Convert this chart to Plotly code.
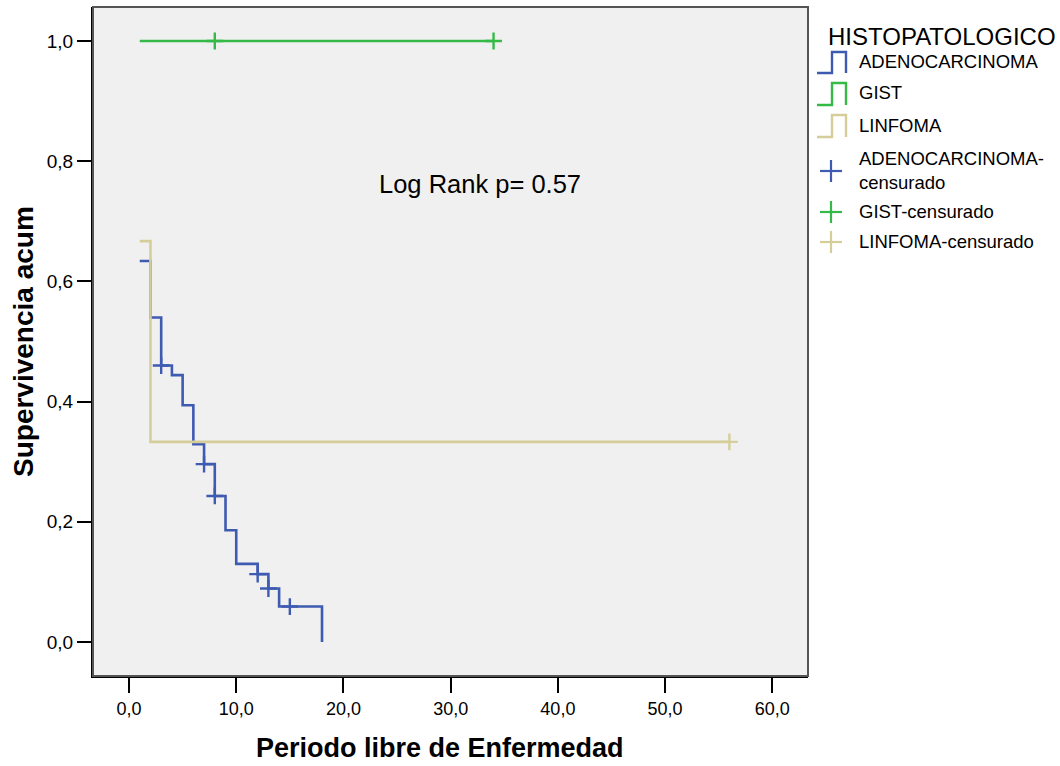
import plotly.graph_objects as go

# ---------------- data ----------------
adeno_t = [1, 2, 3, 4, 5, 6, 7, 8, 9, 10, 12, 13, 14, 18]
adeno_s = [0.634, 0.540, 0.460, 0.444, 0.394, 0.329, 0.296, 0.243, 0.186, 0.130, 0.113, 0.089, 0.059, 0.0]
adeno_cens_t = [3, 7, 8, 12, 13, 15]
adeno_cens_s = [0.460, 0.296, 0.243, 0.113, 0.089, 0.059]

gist_t = [1, 34]
gist_s = [1.0, 1.0]
gist_cens_t = [8, 34]
gist_cens_s = [1.0, 1.0]

linf_t = [1, 2, 56]
linf_s = [0.667, 0.333, 0.333]
linf_cens_t = [56]
linf_cens_s = [0.333]

x_ticks = [0, 10, 20, 30, 40, 50, 60]
x_ticktext = ["0,0", "10,0", "20,0", "30,0", "40,0", "50,0", "60,0"]
y_ticks = [0.0, 0.2, 0.4, 0.6, 0.8, 1.0]
y_ticktext = ["0,0", "0,2", "0,4", "0,6", "0,8", "1,0"]

legend_title = "HISTOPATOLOGICO"
legend_lines = ["ADENOCARCINOMA", "GIST", "LINFOMA"]
legend_cens = ["ADENOCARCINOMA-<br>censurado", "GIST-censurado", "LINFOMA-censurado"]

BLUE = "#3F5BB1"
GREEN = "#35BA47"
TAN = "#D5CE9A"
colors = [BLUE, GREEN, TAN]
FONT = "Liberation Sans, Arial, sans-serif"

# ---------------- figure ----------------
W, H = 1060, 766
L, R, T, B = 93, 252, 7, 90
fig = go.Figure()

for t, s, c in [(adeno_t, adeno_s, BLUE), (gist_t, gist_s, GREEN), (linf_t, linf_s, TAN)]:
    fig.add_trace(go.Scatter(x=t, y=s, mode="lines", line=dict(color=c, width=2.6, shape="hv"),
                             showlegend=False, hoverinfo="skip"))
for t, s, c in [(adeno_cens_t, adeno_cens_s, BLUE), (gist_cens_t, gist_cens_s, GREEN),
                (linf_cens_t, linf_cens_s, TAN)]:
    fig.add_trace(go.Scatter(x=t, y=s, mode="markers",
                             marker=dict(symbol="cross-thin", size=12, line=dict(color=c, width=2.4)),
                             showlegend=False, hoverinfo="skip"))

pw, ph = W - L - R, H - T - B


def px(x):
    return (x - L) / pw


def py(y):
    return (H - B - y) / ph


shapes = []
annotations = []
# plot frame (top/right grey)
shapes.append(dict(type="rect", xref="paper", yref="paper", x0=0, x1=1, y0=0, y1=1,
                   line=dict(color="#555555", width=2), layer="above"))

# custom legend
annotations.append(dict(x=px(826), y=py(36), xref="paper", yref="paper", text=legend_title,
                        showarrow=False, xanchor="left", yanchor="middle",
                        font=dict(family=FONT, size=24, color="black")))
line_rows = [(52, 73, 62), (83, 105, 93), (115, 137, 125)]
for (ytop, ybot, ytxt), name, c in zip(line_rows, legend_lines, colors):
    shapes.append(dict(type="path", xref="paper", yref="paper",
                       path=f"M {px(817)},{py(ybot)} L {px(832)},{py(ybot)} L {px(832)},{py(ytop)} "
                            f"L {px(846)},{py(ytop)} L {px(846)},{py(ybot)}",
                       line=dict(color=c, width=2.4)))
    annotations.append(dict(x=px(857), y=py(ytxt), xref="paper", yref="paper", text=name,
                            showarrow=False, xanchor="left", yanchor="middle",
                            font=dict(family=FONT, size=18.5, color="black")))
cens_rows = [(171, 170), (212, 212), (242, 242)]
for (yc, ytxt), name, c in zip(cens_rows, legend_cens, colors):
    shapes.append(dict(type="line", xref="paper", yref="paper", x0=px(820), x1=px(842),
                       y0=py(yc), y1=py(yc), line=dict(color=c, width=2.2)))
    shapes.append(dict(type="line", xref="paper", yref="paper", x0=px(831), x1=px(831),
                       y0=py(yc - 11), y1=py(yc + 11), line=dict(color=c, width=2.2)))
    annotations.append(dict(x=px(857), y=py(ytxt), xref="paper", yref="paper", text=name,
                            showarrow=False, xanchor="left", yanchor="middle", align="left",
                            font=dict(family=FONT, size=18.5, color="black")))

# Log rank text
annotations.append(dict(x=32.7, y=0.762, xref="x", yref="y", text="Log Rank p= 0.57",
                        showarrow=False, xanchor="center", yanchor="middle",
                        font=dict(family=FONT, size=25.5, color="black")))
# axis titles
annotations.append(dict(x=px(440), y=py(748), xref="paper", yref="paper",
                        text="<b>Periodo libre de Enfermedad</b>", showarrow=False,
                        xanchor="center", yanchor="middle",
                        font=dict(family=FONT, size=27, color="black")))
annotations.append(dict(x=px(23), y=py(342), xref="paper", yref="paper",
                        text="<b>Supervivencia acum</b>", showarrow=False, textangle=-90,
                        xanchor="center", yanchor="middle",
                        font=dict(family=FONT, size=28, color="black")))

fig.update_layout(
    width=W, height=H,
    margin=dict(l=L, r=R, t=T, b=B, pad=0),
    paper_bgcolor="white", plot_bgcolor="#F0F0F0",
    showlegend=False,
    shapes=shapes, annotations=annotations,
    xaxis=dict(range=[-3.36, 63.33], tickvals=x_ticks, ticktext=x_ticktext,
               showgrid=False, zeroline=False, showline=True, linecolor="black", linewidth=2,
               ticks="outside", ticklen=15, tickwidth=2, tickcolor="black",
               tickfont=dict(family=FONT, size=18, color="black")),
    yaxis=dict(range=[-0.0566, 1.0566], tickvals=y_ticks, ticktext=y_ticktext,
               showgrid=False, zeroline=False, showline=True, linecolor="black", linewidth=2,
               ticks="outside", ticklen=14, tickwidth=2, tickcolor="black",
               tickfont=dict(family=FONT, size=19, color="black")),
)

fig.write_html("out.html")
